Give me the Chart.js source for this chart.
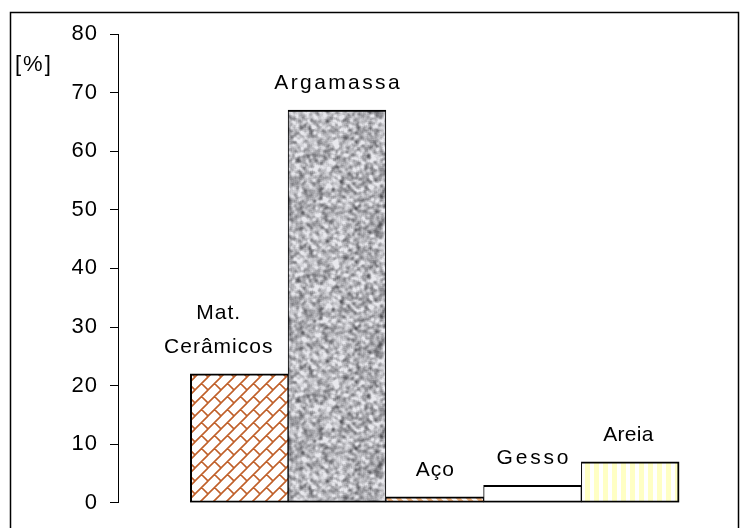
<!DOCTYPE html>
<html>
<head>
<meta charset="utf-8">
<script src="https://cdn.jsdelivr.net/npm/chart.js@4/dist/chart.umd.min.js"></script>
<style>
  html, body { margin: 0; padding: 0; background: #fff; }
  canvas { display: block; }
</style>
</head>
<body>
<canvas id="c" width="740" height="528"></canvas>
<script>
// ---- data ----
const categories = [['Mat.', 'Cerâmicos'], 'Argamassa', 'Aço', 'Gesso', 'Areia'];
const values = [22, 67, 1, 3, 7];
const yTicks = [0, 10, 20, 30, 40, 50, 60, 70, 80];
const unitLabel = '[%]';

// ---- style ----
const FONT = '"Liberation Sans", Arial, sans-serif';
const labelShift = [-21, 0, 0, 0, -2];
const labelSpacing = [1, 2.4, 1, 2.8, 0.3];

function mulberry32(a) {
  return function () {
    a |= 0; a = a + 0x6D2B79F5 | 0;
    let t = Math.imul(a ^ a >>> 15, 1 | a);
    t = t + Math.imul(t ^ t >>> 7, 61 | t) ^ t;
    return ((t ^ t >>> 14) >>> 0) / 4294967296;
  };
}

function makeTile(w, h, draw) {
  const c = document.createElement('canvas');
  c.width = w; c.height = h;
  const g = c.getContext('2d');
  draw(g, w, h);
  return c;
}

const ctx0 = document.getElementById('c').getContext('2d');

// brick (diagonal) pattern
const brickTile = makeTile(13, 13, (g, s) => {
  g.fillStyle = '#fff'; g.fillRect(0, 0, s, s);
  g.strokeStyle = '#C0602A'; g.lineWidth = 1.6; g.lineCap = 'butt';
  g.beginPath();
  [0, s, 2 * s].forEach(c => { g.moveTo(c + 3, -3); g.lineTo(c - s - 3, s + 3); });
  [[0, 0], [-s, 0], [0, -s], [-s, -s]].forEach(([dx, dy]) => {
    g.moveTo(s / 2 + dx, s / 2 + dy); g.lineTo(s + dx, s + dy);
  });
  g.stroke();
});

// granite texture
const graniteTile = makeTile(120, 120, (g, N) => {
  const rnd = mulberry32(12345);
  let a = new Float32Array(N * N);
  for (let i = 0; i < N * N; i++) a[i] = rnd();
  for (let pass = 0; pass < 2; pass++) {
    const b = new Float32Array(N * N);
    for (let y = 0; y < N; y++) for (let x = 0; x < N; x++) {
      let s = 0;
      for (let dy = -1; dy <= 1; dy++) for (let dx = -1; dx <= 1; dx++) {
        s += a[((y + dy + N) % N) * N + ((x + dx + N) % N)];
      }
      b[y * N + x] = s / 9;
    }
    a = b;
  }
  let mean = 0; for (let i = 0; i < N * N; i++) mean += a[i]; mean /= N * N;
  let sd = 0; for (let i = 0; i < N * N; i++) sd += (a[i] - mean) ** 2; sd = Math.sqrt(sd / (N * N));
  const img = g.createImageData(N, N);
  for (let i = 0; i < N * N; i++) {
    const v = (a[i] - mean) / sd;
    let gray = 180 + v * 28 + (rnd() - 0.5) * 10;
    gray = Math.max(80, Math.min(232, gray));
    img.data[i * 4] = gray; img.data[i * 4 + 1] = gray; img.data[i * 4 + 2] = Math.min(255, gray + 5); img.data[i * 4 + 3] = 255;
  }
  g.putImageData(img, 0, 0);
});

// orange diagonal stripes (Aço)
const acoTile = makeTile(10, 10, (g, s) => {
  g.fillStyle = '#fff'; g.fillRect(0, 0, s, s);
  g.strokeStyle = '#F8B47C'; g.lineWidth = 3.5;
  g.beginPath();
  [-s, 0, s].forEach(c => { g.moveTo(c - 3, -3); g.lineTo(c + s + 3, s + 3); });
  g.stroke();
});

// yellow vertical stripes (Areia)
const areiaTile = makeTile(9, 4, (g, w, h) => {
  g.fillStyle = '#fff'; g.fillRect(0, 0, w, h);
  g.fillStyle = '#FFFFC4'; g.fillRect(0, 0, 5, h);
});

const fills = [
  ctx0.createPattern(brickTile, 'repeat'),
  ctx0.createPattern(graniteTile, 'repeat'),
  ctx0.createPattern(acoTile, 'repeat'),
  '#ffffff',
  ctx0.createPattern(areiaTile, 'repeat')
];

const tickSpacing = {
  id: 'tickSpacing',
  beforeDraw(chart) { chart.ctx.letterSpacing = '1px'; },
  afterDraw(chart) { chart.ctx.letterSpacing = '0px'; }
};

const frameAndTitle = {
  id: 'frameAndTitle',
  afterDraw(chart) {
    const c = chart.ctx;
    c.save();
    c.strokeStyle = '#000'; c.lineWidth = 1.5;
    c.strokeRect(10.5, 12.5, 728, 560);
    c.font = '22px ' + FONT;
    c.fillStyle = '#000';
    c.textAlign = 'left'; c.textBaseline = 'middle';
    c.letterSpacing = '2px';
    c.fillText(unitLabel, 15, 65);
    c.restore();
  }
};

const barLabels = {
  id: 'barLabels',
  afterDatasetsDraw(chart) {
    const meta = chart.getDatasetMeta(0);
    const c = chart.ctx;
    c.save();
    c.font = '21px ' + FONT;
    c.fillStyle = '#000';
    c.textAlign = 'left'; c.textBaseline = 'alphabetic';
    meta.data.forEach((bar, i) => {
      c.letterSpacing = labelSpacing[i] + 'px';
      const lines = Array.isArray(categories[i]) ? categories[i] : [categories[i]];
      const x = bar.x + labelShift[i];
      let y = bar.y - 21;
      for (let k = lines.length - 1; k >= 0; k--) {
        const w = c.measureText(lines[k]).width - labelSpacing[i];
        c.fillText(lines[k], x - w / 2, y);
        y -= 34;
      }
    });
    c.restore();
  }
};

const n = values.length;
new Chart(ctx0, {
  type: 'bar',
  data: {
    datasets: [{
      data: values.map((v, i) => ({ x: i, y: v })),
      backgroundColor: fills,
      borderColor: '#000',
      borderWidth: (ctx) => {
        const i = ctx.dataIndex;
        return { top: 2, bottom: 2, left: i === 0 ? 2 : 1, right: i === n - 1 ? 2 : 1 };
      },
      borderSkipped: false,
      barPercentage: 1,
      categoryPercentage: 1
    }]
  },
  options: {
    responsive: false,
    animation: false,
    devicePixelRatio: 1,
    layout: { padding: { left: 0, right: 12, top: 34, bottom: 24 } },
    plugins: { legend: { display: false }, tooltip: { enabled: false } },
    scales: {
      x: {
        type: 'linear',
        display: false,
        offset: false,
        min: -1.24,
        max: 5,
        ticks: { stepSize: 1, includeBounds: false }
      },
      y: {
        min: yTicks[0],
        max: yTicks[yTicks.length - 1],
        afterBuildTicks: (s) => { s.ticks = yTicks.map(v => ({ value: v })); },
        ticks: { color: '#000', font: { family: FONT, size: 22 }, padding: 12 },
        grid: { display: true, drawOnChartArea: false, drawTicks: true, tickLength: 8, color: '#000', lineWidth: 1 },
        border: { display: true, color: '#000', width: 1 },
        afterFit: (s) => { s.width = 118; }
      }
    }
  },
  plugins: [tickSpacing, barLabels, frameAndTitle]
});
</script>
</body>
</html>
